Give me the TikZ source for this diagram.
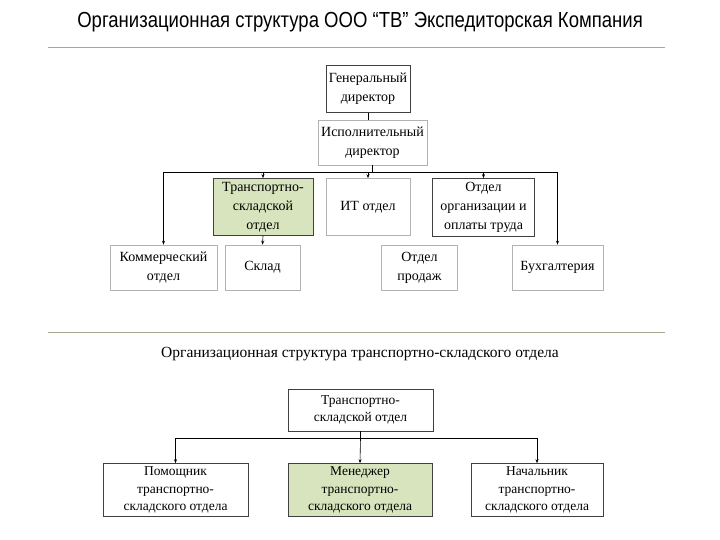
\documentclass[tikz,border=0pt]{standalone}
\usepackage{fontspec}
\setmainfont{Liberation Serif}
\newfontfamily\titlefont[FakeStretch=0.85]{Liberation Sans}
\usetikzlibrary{arrows.meta}

\definecolor{boxgreen}{HTML}{D7E4BD}
\definecolor{rulecol}{HTML}{A8A88C}

\tikzset{
  box/.style={draw=black!75, line width=0.6pt, align=center, inner sep=0pt,
              font=\fontsize{14}{19}\selectfont},
  lightbox/.style={box, draw=black!30},
  tsobox/.style={box, fill=boxgreen},
  lowbox/.style={box, font=\fontsize{13.5}{17.5}\selectfont},
  conn/.style={line width=0.6pt},
  arr/.style={conn, -{Stealth[length=4pt,width=3pt]}}
}

\begin{document}
\begin{tikzpicture}[x=1pt,y=-1pt]
  \useasboundingbox (0,0) rectangle (720,540);

  % Titles and rules
  \node (title) at (360,22) {\titlefont\fontsize{21.8}{24}\selectfont Организационная структура ООО “ТВ” Экспедиторская Компания};
  \draw[rulecol, line width=0.8pt] (48,47) -- (665,47);
  \draw[rulecol, line width=0.8pt] (48,332) -- (665,332);
  \node (subtitle) at (360,354) {\fontsize{15.5}{18}\selectfont Организационная структура транспортно-складского отдела};

  % Upper chart
  \node[box, minimum width=84, minimum height=47] (gendir) at (368,89) {Генеральный\\директор};
  \node[lightbox, minimum width=109, minimum height=45] (ispdir) at (372.5,142.5) {Исполнительный\\директор};

  \node[tsobox, minimum width=100, minimum height=57] (tso) at (263,207) {Транспортно-\\складской\\отдел};
  \node[lightbox, minimum width=84, minimum height=57] (it) at (368,207) {ИТ отдел};
  \node[box, minimum width=102, minimum height=58] (ootr) at (483.5,207.5) {Отдел\\организации и\\оплаты труда};

  \node[lightbox, minimum width=107, minimum height=45] (komm) at (163.5,267.5) {Коммерческий\\отдел};
  \node[lightbox, minimum width=75, minimum height=45] (sklad) at (262.5,267.5) {Склад};
  \node[lightbox, minimum width=76, minimum height=45] (prod) at (419.5,267.5) {Отдел\\продаж};
  \node[lightbox, minimum width=91, minimum height=45] (buh) at (557.5,267.5) {Бухгалтерия};

  \coordinate (bus) at (372.5,172);
  \draw[conn] (gendir.south) -- (gendir.south |- ispdir.north);
  \draw[conn] (ispdir.south) -- (bus);
  \draw[arr] (bus) -| (komm.north);
  \draw[arr] (bus) -| (buh.north);
  \draw[arr] (bus) -| (tso.north);
  \draw[arr] (bus) -| (it.north);
  \draw[arr] (bus) -| (ootr.north);
  \draw[arr] (tso.south) -- (sklad.north);

  % Lower chart
  \node[lowbox, minimum width=145, minimum height=42] (tso2) at (360.5,410) {Транспортно-\\складской отдел};
  \node[lowbox, minimum width=145, minimum height=53] (pom) at (175.5,490) {Помощник\\транспортно-\\складского отдела};
  \node[lowbox, fill=boxgreen, minimum width=144, minimum height=53] (men) at (360,490) {Менеджер\\транспортно-\\складского отдела};
  \node[lowbox, minimum width=132, minimum height=53] (nach) at (537,490) {Начальник\\транспортно-\\складского отдела};

  \coordinate (bus2) at (360.5,438);
  \draw[conn] (tso2.south) -- (bus2);
  \draw[arr] (bus2) -| (pom.north);
  \draw[arr] (bus2) -- (men.north);
  \draw[arr] (bus2) -| (nach.north);
\end{tikzpicture}
\end{document}
